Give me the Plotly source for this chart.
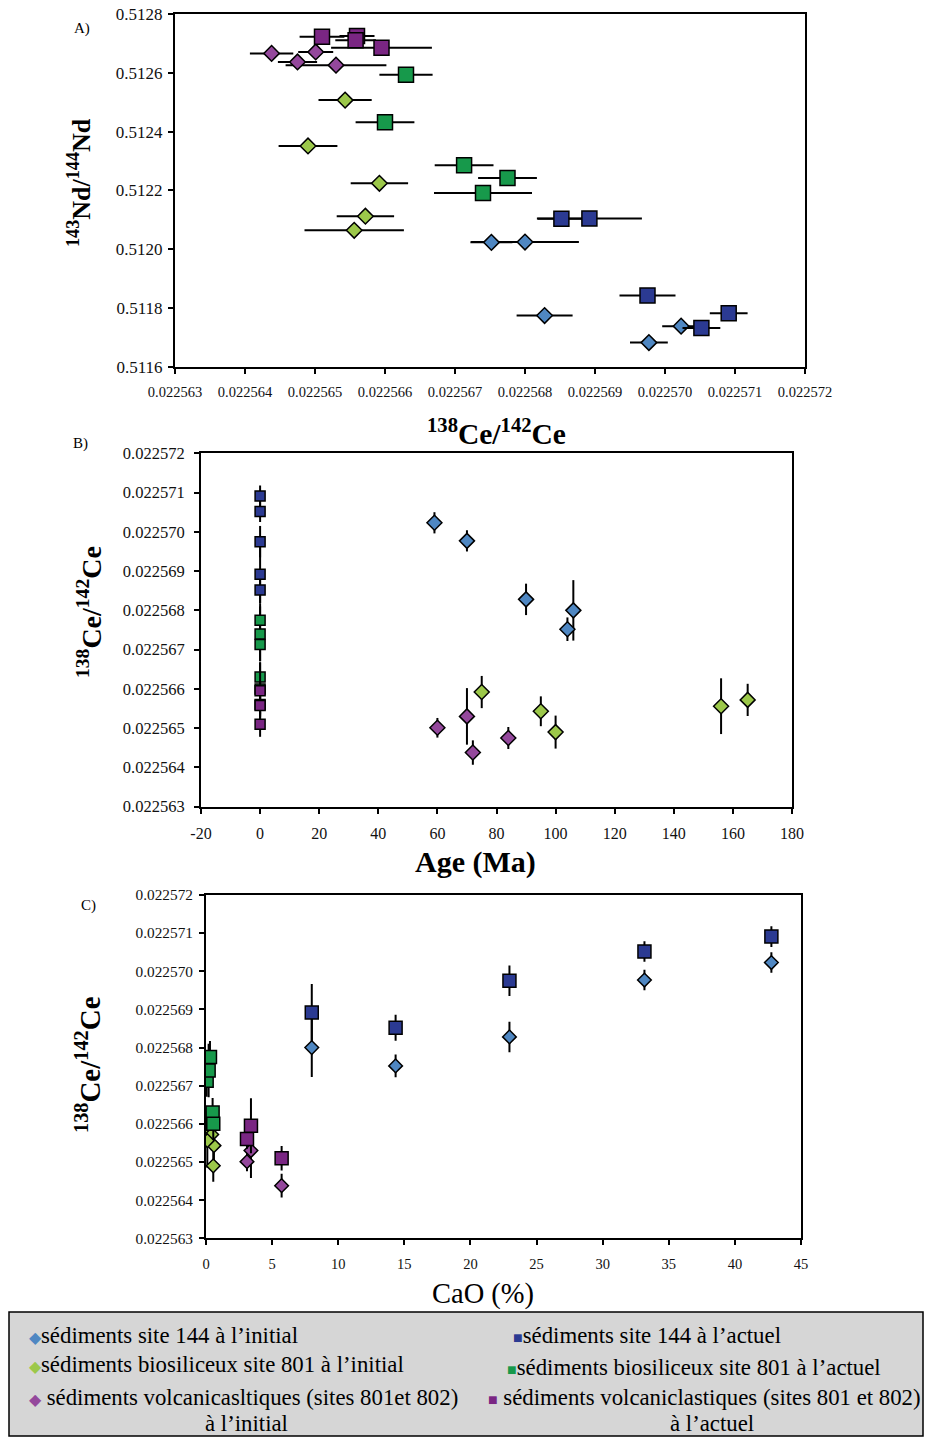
import plotly.graph_objects as go

W, H = 925, 1437

# ---------------- DATA ----------------
# Site 144 sediments (blue)
ce_144_init = [0.02257023, 0.02256977, 0.02256828, 0.02256752, 0.02256800]
ce_144_init_err = [0.27e-6, 0.27e-6, 0.40e-6, 0.30e-6, 0.77e-6]
nd_144_init = [0.511738, 0.511682, 0.511774, 0.512023, 0.512024]
age_144 = [59, 70, 90, 104, 106]
cao_144 = [42.76, 33.16, 22.95, 14.34, 8.0]

ce_144_act = [0.02257091, 0.02257052, 0.02256975, 0.02256852, 0.02256892]
ce_144_act_err = [0.27e-6, 0.27e-6, 0.40e-6, 0.34e-6, 0.75e-6]
nd_144_act = [0.511782, 0.511732, 0.511842, 0.512103, 0.512104]
age_144_act = [0, 0, 0, 0, 0]
cao_144_act = [42.76, 33.16, 22.95, 14.34, 8.0]

# Site 801 biosiliceous sediments (green)
ce_801_init = [0.02256543, 0.02256490, 0.02256592, 0.02256572, 0.02256556]
ce_801_init_err = [0.38e-6, 0.42e-6, 0.41e-6, 0.41e-6, 0.71e-6]
nd_801_init = [0.512507, 0.512351, 0.512224, 0.512112, 0.512064]
age_801 = [95, 100, 75, 165, 156]
cao_801 = [0.6, 0.55, 0.05, 0.43, 0.1]

ce_801_act = [0.02256630, 0.02256600, 0.02256713, 0.02256775, 0.02256740]
ce_801_act_err = [0.38e-6, 0.42e-6, 0.42e-6, 0.42e-6, 0.70e-6]
nd_801_act = [0.512593, 0.512432, 0.512285, 0.512242, 0.512191]
age_801_act = [0, 0, 0, 0, 0]
cao_801_act = [0.5, 0.55, 0.05, 0.3, 0.2]

# Volcaniclastic sediments sites 801 and 802 (purple)
ce_vc_init = [0.02256438, 0.02256501, 0.02256475, 0.02256530]
ce_vc_init_err = [0.31e-6, 0.25e-6, 0.28e-6, 0.72e-6]
nd_vc_init = [0.512666, 0.512671, 0.512637, 0.512626]
age_vc = [72, 60, 84, 70]
cao_vc = [5.72, 3.1, None, 3.4]

ce_vc_act = [0.02256510, 0.02256560, 0.02256558, 0.02256595]
ce_vc_act_err = [0.32e-6, 0.25e-6, 0.29e-6, 0.72e-6]
nd_vc_act = [0.512723, 0.512725, 0.512711, 0.512685]
age_vc_act = [0, 0, 0, 0]
cao_vc_act = [5.72, 3.1, None, 3.4]

# axis ranges / ticks
ce_range = [0.022563, 0.022572]
nd_range = [0.5116, 0.5128]
age_range = [-20, 180]
age_ticks = [-20, 0, 20, 40, 60, 80, 100, 120, 140, 160, 180]
age_tick_labels = ["-20", "0", "20", "40", "60", "80", "100", "120", "140", "160", "180"]
cao_range = [0, 45]

# ---------------- STYLE ----------------
C_BLUE_D = "#4f87c2"
C_BLUE_S = "#2b3a92"
C_GREEN_D = "#9cc84a"
C_GREEN_S = "#17994b"
C_PURP_D = "#94489c"
C_PURP_S = "#7a2683"

groups = [
    dict(ce=ce_144_init, err=ce_144_init_err, nd=nd_144_init, age=age_144, cao=cao_144, sym="diamond", col=C_BLUE_D),
    dict(ce=ce_144_act, err=ce_144_act_err, nd=nd_144_act, age=age_144_act, cao=cao_144_act, sym="square", col=C_BLUE_S),
    dict(ce=ce_801_init, err=ce_801_init_err, nd=nd_801_init, age=age_801, cao=cao_801, sym="diamond", col=C_GREEN_D),
    dict(ce=ce_801_act, err=ce_801_act_err, nd=nd_801_act, age=age_801_act, cao=cao_801_act, sym="square", col=C_GREEN_S),
    dict(ce=ce_vc_init, err=ce_vc_init_err, nd=nd_vc_init, age=age_vc, cao=cao_vc, sym="diamond", col=C_PURP_D),
    dict(ce=ce_vc_act, err=ce_vc_act_err, nd=nd_vc_act, age=age_vc_act, cao=cao_vc_act, sym="square", col=C_PURP_S),
]

sizes = {
    "A": {"diamond": 12, "square": 15},
    "B": {"diamond": 11.5, "square": 10},
    "C": {"diamond": 10.5, "square": 13},
}

fig = go.Figure()
eb = dict(type="data", color="black", thickness=2, width=0, visible=True)

for g in groups:
    # Panel A : Nd vs Ce, horizontal error bars
    fig.add_trace(go.Scatter(
        x=g["ce"], y=g["nd"], mode="markers", xaxis="x", yaxis="y",
        marker=dict(symbol=g["sym"], size=sizes["A"][g["sym"]], color=g["col"],
                    line=dict(color="black", width=1.5)),
        error_x=dict(array=g["err"], **eb), showlegend=False, hoverinfo="skip"))
for g in groups:
    # Panel B : Ce vs Age
    fig.add_trace(go.Scatter(
        x=g["age"], y=g["ce"], mode="markers", xaxis="x2", yaxis="y2",
        marker=dict(symbol=g["sym"], size=sizes["B"][g["sym"]], color=g["col"],
                    line=dict(color="black", width=1.5)),
        error_y=dict(array=g["err"], **eb), showlegend=False, hoverinfo="skip"))
for g in groups:
    # Panel C : Ce vs CaO
    fig.add_trace(go.Scatter(
        x=g["cao"], y=g["ce"], mode="markers", xaxis="x3", yaxis="y3",
        marker=dict(symbol=g["sym"], size=sizes["C"][g["sym"]], color=g["col"],
                    line=dict(color="black", width=1.5)),
        error_y=dict(array=g["err"], **eb), showlegend=False, hoverinfo="skip"))

FONT = "Liberation Serif, Times New Roman, serif"


def px(x):
    return x / W


def py(y):
    return 1 - y / H


def ax(domain, rng, dtick, fmt, fs, anchor, tick0=None, standoff=6):
    d = dict(domain=domain, range=rng, dtick=dtick, showline=True, linecolor="black",
             linewidth=2, mirror=True, ticks="outside", ticklen=5, tickwidth=1.5,
             tickcolor="black", showgrid=False, zeroline=False, anchor=anchor,
             automargin=False,
             tickfont=dict(family=FONT, size=fs, color="#111"), ticklabelstandoff=standoff)
    if fmt:
        d["tickformat"] = fmt
    if tick0 is not None:
        d["tick0"] = tick0
    return d


xaxis2 = ax([px(201), px(792)], age_range, 20, None, 16, "y2", tick0=-20)
xaxis2.update(tickmode="array", tickvals=age_ticks, ticktext=age_tick_labels)

fig.update_layout(
    template="none",
    width=W, height=H, margin=dict(l=0, r=0, t=0, b=0, pad=0, autoexpand=False),
    paper_bgcolor="white", plot_bgcolor="white", showlegend=False,
    font=dict(family=FONT, color="black"),
    xaxis=ax([px(175), px(805)], ce_range, 1e-6, ".6f", 14.5, "y", tick0=0.022563),
    yaxis=ax([py(366.7), py(14)], nd_range, 0.0002, ".4f", 17, "x", tick0=0.5116, standoff=2),
    xaxis2=xaxis2,
    yaxis2=ax([py(806.7), py(453.3)], ce_range, 1e-6, ".6f", 16.5, "x2", tick0=0.022563),
    xaxis3=ax([px(206), px(801)], cao_range, 5, None, 14.5, "y3", tick0=0),
    yaxis3=ax([py(1238.3), py(895)], ce_range, 1e-6, ".6f", 15.3, "x3", tick0=0.022563, standoff=3),
)

ann = []


def text(x, y, s, size, angle=0, xanchor="center", yanchor="middle", color="black"):
    ann.append(dict(x=px(x), y=py(y), xref="paper", yref="paper", text=s, showarrow=False,
                    textangle=angle, xanchor=xanchor, yanchor=yanchor,
                    font=dict(family=FONT, size=size, color=color)))


CE_T = "<b><sup>138</sup>Ce/<sup>142</sup>Ce</b>"
ND_T = "<b><sup>143</sup>Nd/<sup>144</sup>Nd</b>"

# panel labels
text(82, 28, "A)", 15)
text(80, 443, "B)", 15)
text(88, 906, "C)", 15)
# axis titles
text(80, 183, ND_T, 26, angle=-90)
text(497, 432, CE_T, 29.5)
text(90, 612, CE_T, 28, angle=-90)
text(475, 862, "<b>Age (Ma)</b>", 30)
text(88, 1065, CE_T, 29, angle=-90)
text(483, 1294, "CaO (%)", 28.5)

# legend box
shapes = [dict(type="rect", xref="paper", yref="paper", x0=px(9), x1=px(923), y0=py(1436), y1=py(1312),
               fillcolor="#d6d6d6", line=dict(color="black", width=1.5), layer="below")]


def glyph(ch, col):
    return f'<span style="color:{col};font-size:16px">{ch}</span>'


LEG = 22.8
text(27, 1335, glyph("◆", C_BLUE_D) + "sédiments site 144 à l’initial", LEG, xanchor="left")
text(27, 1364, glyph("◆", C_GREEN_D) + "sédiments biosiliceux site 801 à l’initial", LEG, xanchor="left")
text(27, 1397, glyph("◆", C_PURP_D) + " sédiments volcanicasltiques (sites 801et 802)", LEG, xanchor="left")
text(246, 1423, "à l’initial", LEG)
text(511, 1335, glyph("■", C_BLUE_S) + "sédiments site 144 à l’actuel", LEG, xanchor="left")
text(505, 1367, glyph("■", C_GREEN_S) + "sédiments biosiliceux site 801 à l’actuel", LEG, xanchor="left")
text(486, 1397, glyph("■", C_PURP_S) + " sédiments volcaniclastiques (sites 801 et 802)", LEG, xanchor="left")
text(712, 1423, "à l’actuel", LEG)

fig.update_layout(annotations=ann, shapes=shapes)
fig.write_html(
    "out.html",
    config={"displayModeBar": False},
    post_script="document.body.style.margin='0';document.body.style.overflow='hidden';",
)
